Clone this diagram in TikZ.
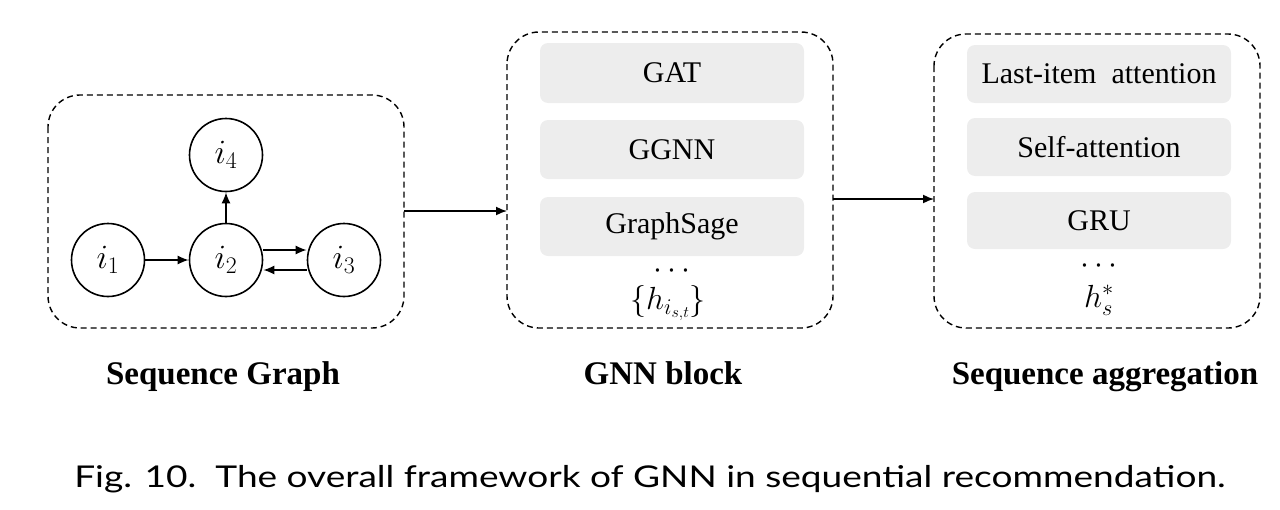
\RequirePackage{fix-cm}
\documentclass[tikz,border=0pt]{standalone}
\usepackage{fontspec}
\setmainfont{Liberation Serif}
\newfontfamily\capfont{Lato}
\usetikzlibrary{arrows.meta}
\begin{document}
\begin{tikzpicture}[x=1pt,y=-1pt,
  grp/.style={draw,dashed,dash pattern=on 6pt off 4pt,line width=1.4pt,rounded corners=32pt},
  item/.style={circle,draw,line width=1.6pt,minimum size=73pt,inner sep=0pt,font=\fontsize{34}{36}\selectfont},
  layer/.style={fill=black!7,rounded corners=8pt,minimum width=264pt,font=\fontsize{30}{32}\selectfont},
  arr/.style={line width=1.6pt,-{Latex[length=11pt,width=9pt]}},
  lab/.style={font=\fontsize{33}{36}\selectfont\bfseries,anchor=base},
  math/.style={font=\fontsize{32}{34}\selectfont}]
\useasboundingbox (0,0) rectangle (1280,509);
% groups
\draw[grp] (48,95) rectangle (404,328);
\draw[grp] (507,32) rectangle (833,328);
\draw[grp] (934,34) rectangle (1260,328);
\coordinate (g1e) at (404,211);
\coordinate (g2w) at (507,211);
\coordinate (g2e) at (833,199);
\coordinate (g3w) at (934,199);
% graph
\node[item] (i4) at (226,155) {$i_4$};
\node[item] (i1) at (108,260) {$i_1$};
\node[item] (i2) at (226,260) {$i_2$};
\node[item] (i3) at (344,260) {$i_3$};
\draw[arr] (i1) -- (i2);
\draw[arr] (i2) -- (i4);
\draw[arr] ([yshift=10pt]i2.east) -- ([yshift=10pt]i3.west);
\draw[arr] ([yshift=-10pt]i3.west) -- ([yshift=-10pt]i2.east);
% GNN block
\node[layer,minimum height=60pt] (gat) at (672,73) {GAT};
\node[layer,minimum height=59pt] (ggnn) at (672,149.5) {GGNN};
\node[layer,minimum height=59pt] (gsage) at (672,226.5) {GraphSage};
\node[math] (d1) at (672,271) {$\cdots$};
\node[math] (h1) at (668,303) {$\{h_{i_{s,t}}\}$};
% aggregation
\node[layer,minimum height=58pt] (last) at (1099,74) {Last-item\ \ attention};
\node[layer,minimum height=58pt] (self) at (1099,147) {Self-attention};
\node[layer,minimum height=57pt] (gru) at (1099,220.5) {GRU};
\node[math] (d2) at (1099,266) {$\cdots$};
\node[math] (h2) at (1099,300) {$h_s^*$};
% connectors
\draw[arr] (g1e) -- (g2w);
\draw[arr] (g2e) -- (g3w);
% labels
\node[lab] (l1) at (223,384) {Sequence Graph};
\node[lab] (l2) at (663,384) {GNN block};
\node[lab] (l3) at (1105,384) {Sequence aggregation};
\node[font=\fontsize{30}{34}\selectfont\capfont,anchor=base] (cap) at (650,487) {\scalebox{1.235}[1]{Fig. 10.\ \ The overall framework of GNN in sequential recommendation.}};
\end{tikzpicture}
\end{document}
